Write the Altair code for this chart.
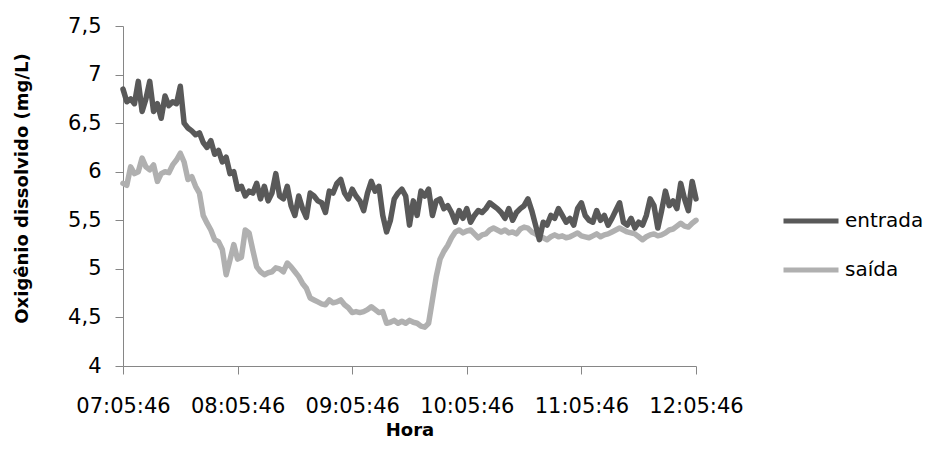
import altair as alt
import pandas as pd

# Dissolved oxygen readings, sampled every 2 minutes from 07:05:46 to 12:05:46
passo_min = 2
entrada = [
    6.85, 6.72, 6.75, 6.70, 6.93, 6.62, 6.75, 6.93, 6.62, 6.70,
    6.55, 6.78, 6.68, 6.72, 6.70, 6.88, 6.50, 6.45, 6.42, 6.38,
    6.40, 6.30, 6.25, 6.32, 6.18, 6.22, 6.10, 6.15, 5.98, 6.00,
    5.82, 5.85, 5.75, 5.80, 5.78, 5.88, 5.72, 5.85, 5.70, 5.78,
    5.98, 5.75, 5.72, 5.85, 5.65, 5.55, 5.75, 5.62, 5.53, 5.78,
    5.75, 5.70, 5.68, 5.58, 5.80, 5.78, 5.88, 5.92, 5.78, 5.72,
    5.82, 5.75, 5.70, 5.60, 5.78, 5.90, 5.80, 5.85, 5.55, 5.38,
    5.50, 5.72, 5.78, 5.82, 5.75, 5.45, 5.70, 5.55, 5.80, 5.75,
    5.82, 5.55, 5.70, 5.72, 5.62, 5.65, 5.58, 5.48, 5.60, 5.52,
    5.62, 5.48, 5.55, 5.60, 5.58, 5.62, 5.68, 5.65, 5.62, 5.58,
    5.52, 5.62, 5.50, 5.58, 5.62, 5.65, 5.72, 5.60, 5.45, 5.30,
    5.48, 5.45, 5.55, 5.52, 5.62, 5.55, 5.48, 5.52, 5.45, 5.62,
    5.68, 5.55, 5.50, 5.48, 5.60, 5.50, 5.55, 5.45, 5.52, 5.60,
    5.68, 5.48, 5.45, 5.52, 5.42, 5.48, 5.45, 5.55, 5.72, 5.65,
    5.42, 5.60, 5.80, 5.65, 5.70, 5.62, 5.88, 5.72, 5.60, 5.90,
    5.72,
]
saida = [
    5.88, 5.86, 6.05, 5.98, 6.00, 6.14, 6.05, 6.02, 6.07, 5.90,
    5.98, 6.00, 5.99, 6.07, 6.12, 6.19, 6.10, 5.92, 5.95, 5.85,
    5.78, 5.55, 5.47, 5.40, 5.30, 5.28, 5.20, 4.94, 5.09, 5.25,
    5.10, 5.12, 5.40, 5.37, 5.19, 5.02, 4.97, 4.94, 4.96, 4.97,
    5.01, 5.00, 4.97, 5.06, 5.02, 4.97, 4.92, 4.85, 4.80, 4.70,
    4.68, 4.66, 4.64, 4.63, 4.68, 4.65, 4.66, 4.68, 4.63, 4.60,
    4.55, 4.56, 4.55, 4.56, 4.58, 4.61, 4.58, 4.55, 4.56, 4.44,
    4.45, 4.47, 4.44, 4.46, 4.44, 4.47, 4.45, 4.44, 4.41, 4.40,
    4.44, 4.68, 4.92, 5.10, 5.18, 5.24, 5.32, 5.38, 5.40, 5.37,
    5.39, 5.40, 5.36, 5.32, 5.35, 5.36, 5.40, 5.42, 5.40, 5.38,
    5.40, 5.37, 5.38, 5.36, 5.41, 5.43, 5.42, 5.38, 5.36, 5.33,
    5.32, 5.30, 5.33, 5.35, 5.33, 5.34, 5.32, 5.33, 5.35, 5.37,
    5.34, 5.33, 5.32, 5.34, 5.36, 5.33, 5.35, 5.36, 5.38, 5.40,
    5.42, 5.40, 5.38, 5.37, 5.36, 5.33, 5.30, 5.33, 5.35, 5.36,
    5.34, 5.35, 5.37, 5.40, 5.41, 5.44, 5.47, 5.44, 5.43, 5.47,
    5.50,
]
series = ["entrada", "saída"]
cores = ["#595959", "#b0b0b0"]
horas_eixo = [0, 60, 120, 180, 240, 300]
rotulos_horas = ["07:05:46", "08:05:46", "09:05:46", "10:05:46", "11:05:46", "12:05:46"]
valores_y = [4, 4.5, 5, 5.5, 6, 6.5, 7, 7.5]

minutos = [i * passo_min for i in range(len(entrada))]
df_ent = pd.DataFrame({"min": minutos, "valor": entrada, "serie": series[0]})
df_sai = pd.DataFrame({"min": minutos, "valor": saida, "serie": series[1]})

FONT = "DejaVu Sans"

# Hour labels looked up by tick position (minutes after the first reading)
rotulos_js = "[" + ", ".join(f"'{r}'" for r in rotulos_horas) + "]"
x_label_expr = f"{rotulos_js}[round(datum.value / 60)]"

x_enc = alt.X(
    "min:Q",
    scale=alt.Scale(domain=[0, 300], nice=False),
    axis=alt.Axis(
        values=horas_eixo,
        labelExpr=x_label_expr,
        labelOverlap=False,
        labelFlush=False,
        labelFontSize=21,
        title="Hora",
        titleY=64,
        titleBaseline="middle",
        labelPadding=21,
        tickSize=8,
        grid=False,
    ),
)
y_enc = alt.Y(
    "valor:Q",
    scale=alt.Scale(domain=[4, 7.5], nice=False, zero=False),
    axis=alt.Axis(
        values=valores_y,
        labelExpr="replace(format(datum.value, '~g'), '.', ',')",
        labelOverlap=False,
        labelFontSize=21,
        title="Oxigênio dissolvido (mg/L)",
        titleX=-101,
        titleY=162,
        titleAngle=-90,
        titleAlign="center",
        titleBaseline="middle",
        labelPadding=14,
        tickSize=8,
        grid=False,
    ),
)
color_enc = alt.Color(
    "serie:N",
    scale=alt.Scale(domain=series, range=cores),
    legend=alt.Legend(
        title=None,
        orient="none",
        legendX=658,
        legendY=165,
        symbolType="stroke",
        symbolStrokeWidth=5,
        symbolSize=3025,
        labelFontSize=20,
        labelFont=FONT,
        labelColor="#000000",
        labelOffset=4,
        rowPadding=9,
        padding=0,
    ),
)

def linha(df):
    return (
        alt.Chart(df)
        .mark_line(strokeWidth=5.5, strokeJoin="round", strokeCap="round")
        .encode(x=x_enc, y=y_enc, color=color_enc)
    )

chart = (
    alt.layer(linha(df_sai), linha(df_ent))
    .properties(
        width=573,
        height=340,
        padding={"left": 123, "top": 26, "right": 232, "bottom": 100},
        autosize=alt.AutoSizeParams(type="none"),
        background="white",
    )
    .configure_view(stroke=None)
    .configure_axis(
        domainColor="#868686",
        tickColor="#868686",
        labelFont=FONT,
        labelFontSize=20,
        labelColor="#000000",
        titleFont=FONT,
        titleFontSize=18,
        titleFontWeight="bold",
        titleColor="#000000",
    )
)

chart.save("out.html", embed_options={"renderer": "svg", "actions": False})
